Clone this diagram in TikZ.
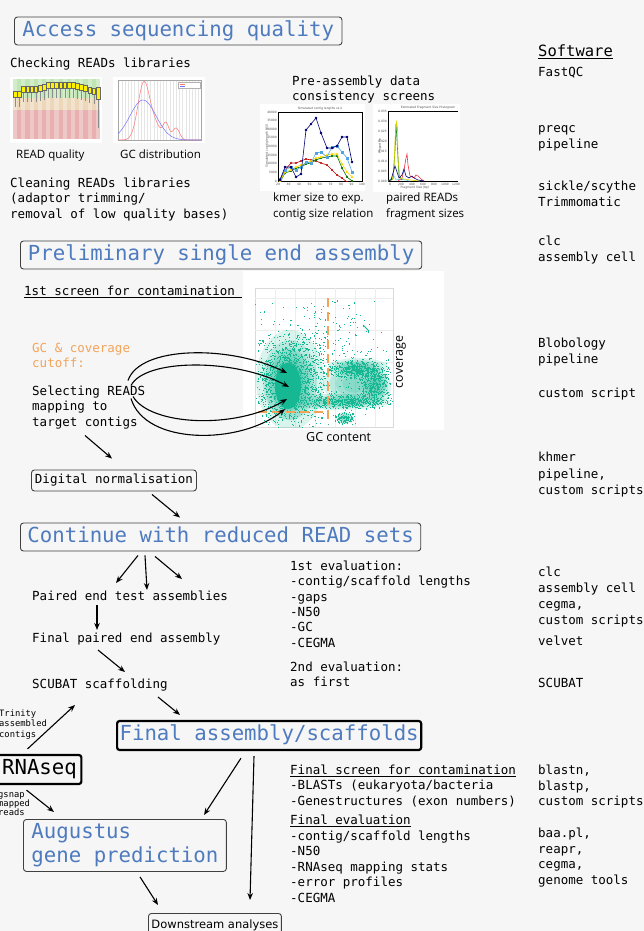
\documentclass[tikz,border=0pt]{standalone}
\usepackage{fontspec}
\usepackage{tikz}
\usetikzlibrary{shapes,arrows.meta}
\usetikzlibrary{positioning,calc}
\usetikzlibrary{plotmarks}

\newfontfamily\mtt{DejaVu Sans Mono}
\newfontfamily\capsans{Open Sans}
\newfontfamily\lsans{DejaVu Sans}

\definecolor{bggray}{RGB}{246,246,246}
\definecolor{ttlblue}{RGB}{78,122,190}
\definecolor{cutorange}{RGB}{242,164,90}
\definecolor{dotc}{RGB}{22,184,148}
\definecolor{qgreen}{RGB}{192,230,180}
\definecolor{qbeige}{RGB}{236,216,184}
\definecolor{qred}{RGB}{232,176,176}

% #5 dots scattered round (#1,#2), spread #3 by #4
\newcommand\scat[5]{%
  \foreach \k in {1,...,#5}{%
    \pgfmathsetmacro\px{#1+#3*(rand+rand)/2}%
    \pgfmathsetmacro\py{#2+#4*(rand+rand)/2}%
    \fill[dotc] (\px,\py) rectangle ++(1.1,1.1);}}
% soft blob: layered ellipses round (#1,#2), radii #3 and #4
\newcommand\softblob[4]{%
  \foreach \s in {1,.8,.6,.4}
    \fill[dotc, opacity=.16] (#1,#2) ellipse ({#3*\s} and {#4*\s});}

\tikzset{
  txt/.style={font=\mtt\fontsize{12.5}{15.3}\selectfont, anchor=base west, align=left, inner sep=0pt},
  sw/.style={txt, font=\mtt\fontsize{12.5}{15.6}\selectfont},
  tiny/.style={font=\mtt\fontsize{8.8}{10.6}\selectfont, anchor=base west, align=left, inner sep=0pt},
  caption/.style={font=\capsans\fontsize{11.5}{16}\selectfont, anchor=base west, align=left, inner sep=0pt},
  micro/.style={font=\lsans\fontsize{3}{3.5}\selectfont, inner sep=0pt, text=black!70},
  ttl/.style={draw=black!75, line width=0.9pt, rounded corners=3pt, text=ttlblue,
    font=\mtt\fontsize{20.7}{24}\selectfont, inner xsep=8pt, inner ysep=0pt,
    text height=15pt, text depth=4.5pt, minimum height=28pt, anchor=west},
  bold box/.style={ttl, draw=black, line width=2.2pt, rounded corners=2.5pt},
  thin box/.style={txt, draw=black!75, line width=0.9pt, rounded corners=3pt},
  arr/.style={-{Stealth[length=7pt,width=5.5pt]}, line width=1.1pt},
}

\begin{document}
\begin{tikzpicture}[x=1pt, y=-1pt]
\fill[bggray] (0,0) rectangle (644,931);
\useasboundingbox (0,0) rectangle (644,931);

% ---- READ quality plot
\fill[white] (10,77) rectangle (102,143);
\fill[qgreen] (13,79) rectangle (100,98);
\fill[qbeige] (13,98) rectangle (100,110);
\fill[qred] (13,110) rectangle (100,139);
\foreach \i in {0,2,...,20}
  \fill[white, opacity=.3] (13+\i*4.14,79) rectangle ++(4.14,60);
\foreach \t [count=\i] in {91,91,86,86,86,86,85,84,82,82,82,82,82,82,82,83,84,85,87,88}{
  \draw[black!45, line width=.3] (13+\i*4.14-2.1,\t+6) -- ++(0,10);
  \filldraw[fill=yellow, draw=black!60, line width=.3] (13+\i*4.14-3.9,\t) rectangle ++(3.7,6);}
\draw[black!45, line width=.3] (98,99) -- (98,128);
\filldraw[fill=yellow, draw=black!60, line width=.3] (96.2,87) rectangle (99.9,99);

% ---- GC distribution plot
\fill[white] (113,77) rectangle (205,143);
\draw[black!10, line width=.2, xstep=3.2, ystep=8] (118,80) grid (201,140);
\draw[black!35, line width=.3] (118,80) rectangle (201,140);
\draw[red!55, line width=.5] plot[domain=118:201, samples=90, smooth]
  (\x, {140-58*exp(-(\x-144)*(\x-144)/72)-12*exp(-(\x-156)*(\x-156)/50)
   -16*exp(-(\x-166)*(\x-166)/18)-12*exp(-(\x-176)*(\x-176)/24)});
\draw[blue!55, line width=.5] plot[domain=118:201, samples=60, smooth]
  (\x, {140-40*exp(-(\x-143)*(\x-143)/338)});
\draw[black!30, line width=.2, fill=white] (178,82) rectangle (200,88);
\draw[red!55, line width=.4] (180,84) -- (185,84);
\draw[blue!55, line width=.4] (180,86.5) -- (185,86.5);

% ---- kmer plot
\fill[white] (260,104) rectangle (365,191);
\draw[black, line width=.35] (278,112) rectangle (362,181);
\node[micro] (kt) at (320,108.5) {Simulated contig lengths vs k};
\node[micro, rotate=90] (ky) at (267,146) {Simulated contig length N50};
\foreach \v [count=\i from 0] in {20,30,...,100}
  \node[micro] at (278+\i*10.5,184.5) {\v};
\foreach \v [count=\i from 0] in {0,5000,10000,15000,20000,25000,30000,35000,40000}
  \node[micro, anchor=east] at (277,181-\i*8.625) {\v};
\begin{scope}[line width=.6]
\clip (278,112) rectangle (362,181);
\draw[red!75!black, mark=x, mark size=.9pt, mark options={solid}] plot coordinates {(280,180) (285,170) (291,163) (296,163) (301,161) (306,159) (311,160) (316,161) (321,163) (327,165) (332,170) (337,175) (342,178) (347,182) (352,183)};
\draw[green!45!black, mark=*, mark size=.8pt] plot coordinates {(280,182) (285,173) (291,171) (296,168) (301,167) (306,164) (311,163) (316,160) (321,158) (327,157) (332,156) (337,156) (342,168) (347,177) (352,181)};
\draw[yellow!75!orange, mark=triangle*, mark size=.9pt] plot coordinates {(280,181) (285,172) (291,170) (296,167) (301,165) (306,163) (311,161) (316,158) (321,157) (327,155) (332,154) (337,154) (342,164) (347,172) (352,177)};
\draw[cyan!70!blue!70, mark=square*, mark size=1pt] plot coordinates {(280,179) (285,170) (291,167) (296,170) (301,167) (306,162) (311,163) (316,153) (321,152) (327,157) (332,147) (337,146) (342,152) (347,158) (352,172)};
\draw[blue!45!black, mark=*, mark size=1pt] plot coordinates {(280,180) (285,167) (291,167) (296,177) (301,174) (306,130) (311,124) (316,118) (321,133) (327,148) (332,148) (337,146) (342,137) (347,137) (352,162)};
\end{scope}

% ---- fragment size plot
\fill[white] (373,104) rectangle (460,192);
\draw[black, line width=.35] (458,111) -- (388,111) -- (388,181) -- (458,181);
\node[micro] (ft) at (428,108) {Estimated Fragment Size Histogram};
\node[micro, rotate=90] (fy) at (380,146) {Proportion};
\node[micro] (fx) at (415,188) {Fragment Size (bp)};
\foreach \v [count=\i from 0] in {0,200,400,600,800,1000,1200}
  \node[micro] at (390+\i*11,184) {\v};
\foreach \v [count=\i from 0] in {0.000,0.005,0.010,0.015,0.020,0.025,0.030,0.035}
  \node[micro, anchor=east] at (387,181-\i*9.9) {\v};
\begin{scope}[line width=.6]
\draw[cyan!60] plot coordinates {(388,181) (392,178) (394,176) (396,180) (400,179) (410,181)};
\draw[red!70!purple!80] plot coordinates {(398,181) (402,178) (404,170) (406,158) (407,154) (408,165) (410,176) (414,178) (416,175) (418,176) (421,179) (424,181)};
\draw[green!50!black] plot coordinates {(388,181) (393,179) (395,150) (396,124) (397,140) (399,175) (402,180)};
\draw[yellow!70!olive] plot coordinates {(388,181) (392,180) (394,170) (395,140) (396.5,122) (397.5,128) (398,160) (400,178) (404,179) (410,180) (420,181)};
\draw[blue!45!black] plot coordinates {(388,181) (391,180) (393,173) (395,166) (397,172) (399,178) (402,175) (404,169) (406,176) (409,178) (412,176) (414,178) (418,180) (424,181)};
\end{scope}

% ---- GC / coverage plot
\fill[white] (243,271) rectangle (444,430);
\draw[black!15, line width=.3] (255,288) rectangle (393,427);
\foreach \gx in {275,295,...,375} \draw[black!7, line width=.3] (\gx,288) -- (\gx,427);
\foreach \gy in {298,330,362,394} \draw[black!7, line width=.3] (255,\gy) -- (393,\gy);
\begin{scope}
\clip (255,288) rectangle (393,427);
\pgfmathsetseed{7}
\softblob{290}{380}{34}{50}
\softblob{289}{384}{24}{36}
\fill[dotc] (288,386) ellipse (13 and 23);
\softblob{355}{384}{32}{22}
\softblob{358}{367}{30}{9}
\softblob{340}{402}{50}{8}
\softblob{377}{386}{14}{18}
\softblob{345}{418}{9}{6}
\scat{320}{360}{75}{75}{400}
\scat{290}{380}{36}{52}{1300}
\scat{345}{401}{50}{8}{500}
\scat{357}{369}{34}{10}{400}
\scat{374}{386}{18}{22}{350}
\scat{344}{418}{10}{7}{120}
\draw[dotc, line width=1] (363,325) -- (369,331);
\end{scope}
\draw[cutorange, line width=2.6pt, dash pattern=on 9pt off 5pt] (328,298) -- (328,424);
\draw[cutorange, line width=2.6pt, dash pattern=on 9pt off 5pt] (258,412) -- (327,412);
\node[caption, font=\capsans\fontsize{12.5}{15}\selectfont, rotate=90, anchor=center] (cov) at (401,362) {coverage};
\node[caption, font=\capsans\fontsize{12.5}{15}\selectfont] (gcc) at (306,441) {GC content};
\coordinate (blob) at (288,390);

% ---- titles
\node[ttl] (acc) at (14,31) {Access sequencing quality};
\node[ttl, inner xsep=7.5pt] (pre) at (20,255) {Preliminary single end assembly};
\node[ttl, inner xsep=7pt] (cont) at (20,537) {Continue with reduced READ sets};
\node[bold box, inner xsep=2.5pt, minimum height=29pt] (fin) at (116,735.5) {Final assembly/scaffolds};
\node[bold box, text=black, inner xsep=4.5pt, minimum height=29pt] (rna) at (-3.5,769.5) {RNAseq};
\node[ttl, anchor=north west, align=left, font=\mtt\fontsize{20.7}{23.5}\selectfont,
  text height=38.5pt, minimum width=198pt, minimum height=52pt] (aug) at (23,819) {Augustus\\gene prediction};

% ---- left column (multi-line nodes sit on their last line)
\node[txt] (chk) at (10,67.5) {Checking READs libraries};
\node[caption] (rq) at (16,158) {READ quality};
\node[caption] (gcd) at (120,158) {GC distribution};
\node[txt] (pas) at (292,100.8) {Pre-assembly data\\consistency screens};
\node[caption] (kmr) at (273,217) {kmer size to exp.\\contig size relation};
\node[caption] (frg) at (386,217) {paired READs\\fragment sizes};
\node[txt] (cln) at (10,218.1) {Cleaning READs libraries\\(adaptor trimming/\\removal of low quality bases)};
\node[txt] (scr) at (24,295.5) {\underline{1st screen for contamination\ }};
\node[txt, text=cutorange] (cut) at (32,367.8) {GC \& coverage\\cutoff:};
\node[txt] (sel) at (32,426.1) {Selecting READS\\mapping to\\target contigs};
\node[thin box, anchor=west, inner xsep=3.5pt, minimum height=21pt] (dn) at (31,480.5) {Digital normalisation};
\node[txt] (pe) at (32,600.5) {Paired end test assemblies};
\node[txt] (fpe) at (32,642.5) {Final paired end assembly};
\node[txt] (scub) at (32,688.5) {SCUBAT scaffolding};
\node[tiny] (trin) at (-1,737.2) {Trinity\\assembled\\contigs};
\node[tiny, font=\mtt\fontsize{8.8}{9}\selectfont] (gsn) at (-2,815) {gsnap\\mapped\\reads};
\node[thin box, anchor=north west, font=\lsans\fontsize{11.5}{14}\selectfont, inner xsep=3pt,
  minimum height=24pt] (down) at (148,913) {Downstream analyses};

% ---- evaluation column
\node[txt] (ev1) at (290,647) {1st evaluation:\\-contig/scaffold lengths\\-gaps\\-N50\\-GC\\-CEGMA};
\node[txt] (ev2) at (290,686.8) {2nd evaluation:\\as first};
\node[txt] (fsc) at (290,805.1) {\underline{Final screen for contamination}\\-BLASTs (eukaryota/bacteria\\-Genestructures (exon numbers)};
\node[txt, font=\mtt\fontsize{12.5}{15.6}\selectfont] (fev) at (290,902.5) {\underline{Final evaluation}\\-contig/scaffold lengths\\-N50\\-RNAseq mapping stats\\-error profiles\\-CEGMA};

% ---- software column
\node[txt, font=\mtt\fontsize{15.5}{18}\selectfont] (soft) at (538,57) {\underline{Software}};
\node[sw] (s1) at (538,76.5) {FastQC};
\node[sw] (s2) at (538,148.1) {preqc\\pipeline};
\node[sw] (s3) at (538,206.1) {sickle/scythe\\Trimmomatic};
\node[sw] (s4) at (538,261.1) {clc\\assembly cell};
\node[sw] (s5) at (538,363.1) {Blobology\\pipeline};
\node[sw] (s6) at (538,397.5) {custom script};
\node[sw, font=\mtt\fontsize{12.5}{16.5}\selectfont] (s7) at (538,494.5) {khmer\\pipeline,\\custom scripts};
\node[sw] (s8) at (538,592.1) {clc\\assembly cell};
\node[sw] (s9) at (538,624.1) {cegma,\\custom scripts};
\node[sw] (s10) at (538,645.5) {velvet};
\node[sw] (s11) at (538,687.5) {SCUBAT};
\node[sw] (s12) at (538,805.7) {blastn,\\blastp,\\custom scripts};
\node[sw] (s13) at (538,884.3) {baa.pl,\\reapr,\\cegma,\\genome tools};

% ---- connectors
\draw[arr] ($(sel.base west)+(96,-45.6)$) .. controls ($(sel.base west)+(108,-80.6)$) and ($(blob)+(-58,-45)$) .. ($(blob)+(-1,-17)$);
\draw[arr] ($(sel.base west)+(99,-40.6)$) .. controls ($(sel.base west)+(113,-67.6)$) and ($(blob)+(-53,-32)$) .. ($(blob)+(1,-3)$);
\draw[arr] ($(sel.base west)+(101,-29.6)$) .. controls ($(sel.base west)+(118,-0.6)$) and ($(blob)+(-53,40)$) .. ($(blob)+(-1,9)$);
\draw[arr] ($(sel.base west)+(99,-27.6)$) .. controls ($(sel.base west)+(113,19.4)$) and ($(blob)+(-48,55)$) .. ($(blob)+(-3,19)$);
\draw[arr] ($(sel.base west)+(53,9.4)$) -- ($(dn.north west)+(81,-11)$);
\draw[arr] ($(dn.south west)+(121,3)$) -- ($(cont.north west)+(160,-5)$);
\draw[arr] ($(cont.south west)+(118,4)$) -- ($(pe.base west)+(84,-17.5)$);
\draw[arr] ($(cont.south west)+(125,4)$) -- ($(pe.base west)+(115,-10.5)$);
\draw[arr] ($(cont.south west)+(135,5)$) -- ($(pe.base west)+(150,-21.5)$);
\draw[arr] ($(pe.base west)+(65,4.5)$) -- ($(fpe.base west)+(65,-12.5)$);
\draw[arr] ($(fpe.base west)+(66,7.5)$) -- ($(scub.base west)+(93,-16.5)$);
\draw[arr] ($(scub.base west)+(126,8.5)$) -- ($(fin.north west)+(64,-5)$);
\draw[arr] ($(rna.north west)+(31,-5)$) -- ($(trin.base west)+(76,-32.2)$);
\draw[arr] ($(rna.south west)+(30,5)$) -- ($(aug.north west)+(31,-7)$);
\draw[arr] ($(fin.south west)+(125,7)$) -- ($(aug.north west)+(181,-4)$);
\draw[arr] ($(fin.south west)+(138,5)$) -- ($(down.north west)+(102,-13)$);
\draw[arr] ($(aug.south west)+(117,5)$) -- ($(down.north west)+(10,-8)$);
\end{tikzpicture}
\end{document}
